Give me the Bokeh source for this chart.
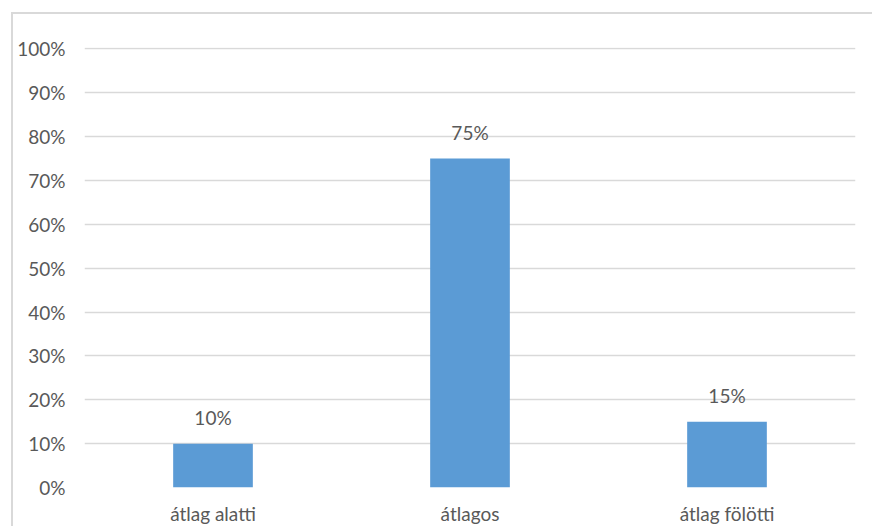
from bokeh.plotting import figure
from bokeh.models import ColumnDataSource, NumeralTickFormatter, FixedTicker
from bokeh.core.properties import value
from bokeh.embed import file_html
from bokeh.resources import INLINE

categories = ["átlag alatti", "átlagos", "átlag fölötti"]
values = [0.10, 0.75, 0.15]
labels = ["10%", "75%", "15%"]
y_ticks = [0, 0.1, 0.2, 0.3, 0.4, 0.5, 0.6, 0.7, 0.8, 0.9, 1.0]

FONT = "Lato"
TXT = "#595959"
GRID = "#d9d9d9"

src = ColumnDataSource(dict(cat=categories, val=values, lab=labels))

p = figure(x_range=categories, y_range=(0, 1.003), width=861, height=514,
           output_backend="svg", toolbar_location=None,
           min_border_left=71, min_border_right=19, min_border_top=33, min_border_bottom=41)
p.margin = (12, 0, 0, 11)
p.styles = {"border-left": "2px solid #d9d9d9", "border-top": "2px solid #d9d9d9",
            "border-right": "none", "border-bottom": "none"}

p.vbar(x="cat", top="val", width=0.31, source=src, color="#5b9bd5", line_color=None)
p.text(x="cat", y="val", text="lab", source=src, text_align="center", text_baseline="middle",
       y_offset=-26, text_font=value(FONT), text_font_size="19px", text_color=TXT)

p.outline_line_color = None
p.xgrid.grid_line_color = None
p.ygrid.grid_line_color = GRID
p.ygrid.grid_line_width = 1.5
p.yaxis.ticker = FixedTicker(ticks=y_ticks)
p.yaxis.formatter = NumeralTickFormatter(format="0%")
for ax in (p.xaxis, p.yaxis):
    ax.axis_line_color = None
    ax.major_tick_line_color = None
    ax.minor_tick_line_color = None
    ax.major_label_text_font = FONT
    ax.major_label_text_font_size = "19px"
    ax.major_label_text_color = TXT
p.yaxis.major_label_standoff = 13
p.xaxis.major_label_standoff = 8

open("out.html", "w").write(file_html(p, INLINE))
